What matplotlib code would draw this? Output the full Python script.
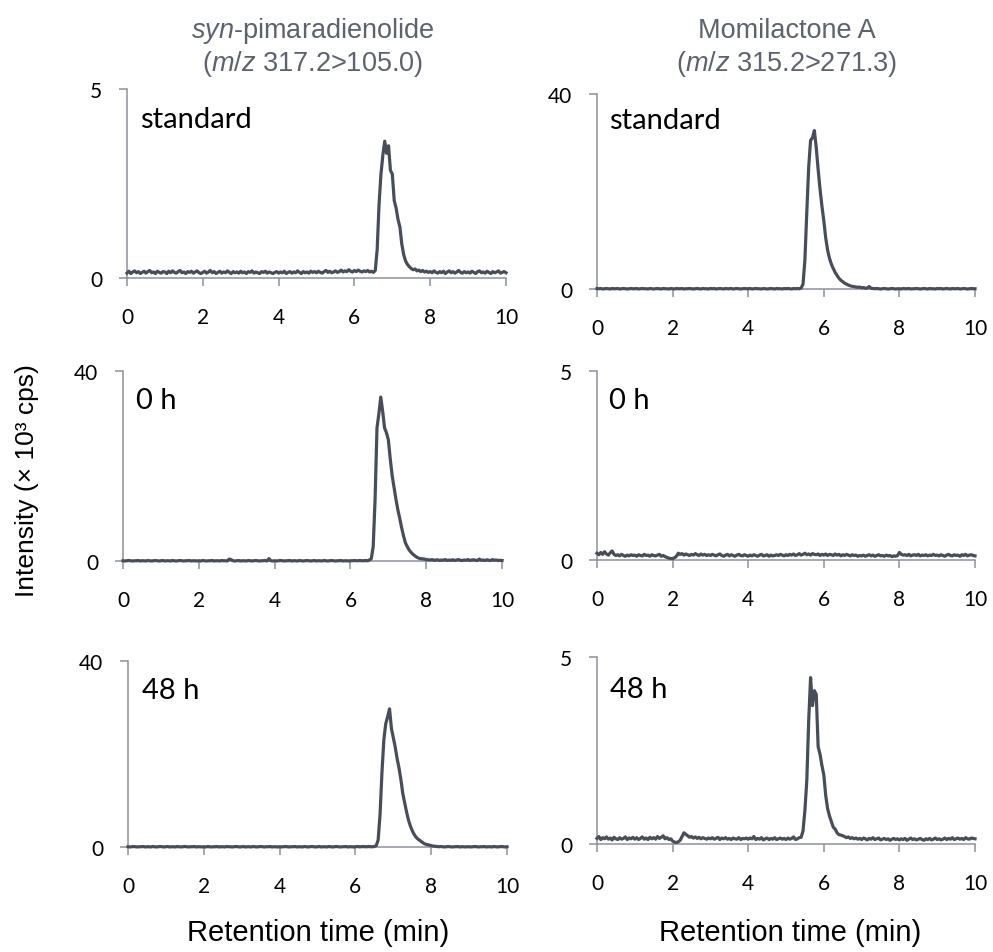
import numpy as np
import matplotlib.pyplot as plt
from matplotlib import font_manager

# retention time axis (min), one reading every 0.05 min
time = np.linspace(0, 10, 201)

# intensities (x 10^3 cps), one row per minute
syn_std = [
    0.13, 0.18, 0.12, 0.16, 0.19, 0.14, 0.17, 0.12, 0.15, 0.18, 0.13, 0.17, 0.20, 0.14, 0.16, 0.12, 0.18, 0.15, 0.13, 0.17,
    0.16, 0.12, 0.18, 0.14, 0.19, 0.15, 0.13, 0.17, 0.20, 0.14, 0.16, 0.12, 0.17, 0.15, 0.18, 0.13, 0.16, 0.19, 0.14, 0.12,
    0.15, 0.18, 0.13, 0.16, 0.20, 0.14, 0.17, 0.12, 0.15, 0.18, 0.13, 0.16, 0.14, 0.19, 0.15, 0.12, 0.17, 0.14, 0.16, 0.13,
    0.18, 0.14, 0.16, 0.12, 0.17, 0.15, 0.19, 0.13, 0.16, 0.14, 0.12, 0.17, 0.15, 0.18, 0.13, 0.16, 0.14, 0.12, 0.15, 0.17,
    0.13, 0.16, 0.14, 0.18, 0.12, 0.15, 0.17, 0.13, 0.16, 0.14, 0.19, 0.15, 0.12, 0.17, 0.14, 0.16, 0.13, 0.18, 0.15, 0.17,
    0.14, 0.18, 0.15, 0.13, 0.17, 0.20, 0.15, 0.18, 0.14, 0.16, 0.19, 0.15, 0.17, 0.21, 0.16, 0.19, 0.17, 0.22, 0.18, 0.16,
    0.20, 0.17, 0.21, 0.18, 0.16, 0.19, 0.17, 0.20, 0.16, 0.18, 0.15, 0.20, 0.75, 1.95, 2.75, 3.25, 3.62, 3.30, 3.50, 2.85,
    2.75, 2.05, 1.85, 1.55, 1.35, 0.90, 0.62, 0.45, 0.36, 0.30, 0.25, 0.22, 0.24, 0.19, 0.21, 0.17, 0.20, 0.16, 0.18, 0.15,
    0.17, 0.14, 0.19, 0.15, 0.13, 0.17, 0.14, 0.18, 0.12, 0.16, 0.19, 0.14, 0.17, 0.13, 0.16, 0.20, 0.15, 0.13, 0.17, 0.14,
    0.16, 0.13, 0.18, 0.15, 0.12, 0.17, 0.19, 0.14, 0.16, 0.13, 0.18, 0.15, 0.12, 0.17, 0.14, 0.16, 0.19, 0.13, 0.15, 0.17,
    0.14,
]

syn_0h = [
    0.05, 0.00, 0.05, 0.10, 0.05, 0.00, 0.05, 0.05, 0.10, 0.00, 0.05, 0.05, 0.00, 0.10, 0.05, 0.00, 0.05, 0.10, 0.05, 0.00,
    0.05, 0.10, 0.00, 0.05, 0.05, 0.00, 0.10, 0.05, 0.00, 0.05, 0.10, 0.05, 0.00, 0.05, 0.05, 0.10, 0.00, 0.05, 0.05, 0.00,
    0.05, 0.00, 0.10, 0.05, 0.00, 0.05, 0.05, 0.10, 0.00, 0.05, 0.05, 0.00, 0.10, 0.05, 0.05, 0.00, 0.40, 0.30, 0.05, 0.00,
    0.05, 0.10, 0.00, 0.05, 0.05, 0.00, 0.10, 0.05, 0.00, 0.05, 0.10, 0.05, 0.00, 0.05, 0.05, 0.10, 0.00, 0.50, 0.05, 0.00,
    0.05, 0.00, 0.05, 0.10, 0.05, 0.00, 0.05, 0.05, 0.10, 0.00, 0.05, 0.05, 0.00, 0.10, 0.05, 0.00, 0.05, 0.10, 0.05, 0.00,
    0.05, 0.10, 0.00, 0.05, 0.05, 0.00, 0.10, 0.05, 0.00, 0.05, 0.10, 0.05, 0.00, 0.05, 0.05, 0.10, 0.00, 0.05, 0.05, 0.00,
    0.05, 0.05, 0.10, 0.05, 0.05, 0.10, 0.05, 0.05, 0.10, 0.05, 0.20, 0.50, 3.00, 13.0, 28.0, 31.0, 34.5, 31.5, 28.0, 27.0,
    25.5, 21.5, 18.0, 15.5, 13.0, 10.8, 9.00, 7.00, 5.30, 3.80, 3.00, 2.30, 1.80, 1.40, 1.10, 0.80, 0.60, 0.50, 0.45, 0.40,
    0.30, 0.25, 0.20, 0.30, 0.15, 0.20, 0.25, 0.10, 0.20, 0.15, 0.30, 0.10, 0.20, 0.15, 0.25, 0.10, 0.20, 0.30, 0.15, 0.10,
    0.20, 0.15, 0.30, 0.10, 0.20, 0.25, 0.15, 0.10, 0.40, 0.15, 0.20, 0.10, 0.25, 0.15, 0.10, 0.30, 0.15, 0.20, 0.10, 0.15,
    0.10,
]

syn_48h = [
    0.05, 0.00, 0.05, 0.10, 0.05, 0.00, 0.05, 0.05, 0.10, 0.00, 0.05, 0.05, 0.00, 0.10, 0.05, 0.00, 0.05, 0.10, 0.05, 0.00,
    0.05, 0.10, 0.00, 0.05, 0.05, 0.00, 0.10, 0.05, 0.00, 0.05, 0.10, 0.05, 0.00, 0.05, 0.05, 0.10, 0.00, 0.05, 0.05, 0.00,
    0.05, 0.00, 0.10, 0.05, 0.00, 0.05, 0.05, 0.10, 0.00, 0.05, 0.05, 0.00, 0.10, 0.05, 0.05, 0.00, 0.05, 0.10, 0.05, 0.00,
    0.05, 0.10, 0.00, 0.05, 0.05, 0.00, 0.10, 0.05, 0.00, 0.05, 0.10, 0.05, 0.00, 0.05, 0.05, 0.10, 0.00, 0.05, 0.05, 0.00,
    0.05, 0.00, 0.05, 0.10, 0.05, 0.00, 0.05, 0.05, 0.10, 0.00, 0.05, 0.05, 0.00, 0.10, 0.05, 0.00, 0.05, 0.10, 0.05, 0.00,
    0.05, 0.10, 0.00, 0.05, 0.05, 0.00, 0.10, 0.05, 0.00, 0.05, 0.10, 0.05, 0.00, 0.05, 0.05, 0.10, 0.00, 0.05, 0.05, 0.00,
    0.05, 0.10, 0.05, 0.05, 0.10, 0.05, 0.05, 0.10, 0.05, 0.05, 0.10, 0.30, 1.50, 7.00, 16.0, 23.0, 26.5, 28.0, 29.7, 25.5,
    23.5, 21.5, 19.0, 17.0, 14.5, 11.5, 9.50, 7.50, 5.80, 4.50, 3.50, 2.70, 2.10, 1.70, 1.40, 1.10, 0.80, 0.60, 0.50, 0.40,
    0.30, 0.20, 0.15, 0.10, 0.05, 0.10, 0.05, 0.00, 0.05, 0.10, 0.05, 0.00, 0.05, 0.05, 0.10, 0.00, 0.05, 0.05, 0.00, 0.05,
    0.05, 0.00, 0.05, 0.10, 0.05, 0.00, 0.05, 0.05, 0.10, 0.00, 0.05, 0.05, 0.00, 0.10, 0.05, 0.00, 0.05, 0.10, 0.05, 0.00,
    0.05,
]

mom_std = [
    0.10, 0.05, 0.10, 0.00, 0.05, 0.10, 0.05, 0.00, 0.10, 0.05, 0.05, 0.10, 0.00, 0.05, 0.10, 0.05, 0.00, 0.05, 0.10, 0.05,
    0.05, 0.10, 0.00, 0.05, 0.10, 0.05, 0.05, 0.00, 0.10, 0.05, 0.00, 0.05, 0.10, 0.05, 0.00, 0.10, 0.05, 0.05, 0.00, 0.10,
    0.05, 0.00, 0.10, 0.05, 0.05, 0.10, 0.00, 0.05, 0.05, 0.10, 0.05, 0.00, 0.05, 0.10, 0.05, 0.00, 0.10, 0.05, 0.05, 0.00,
    0.10, 0.05, 0.10, 0.00, 0.05, 0.10, 0.05, 0.00, 0.10, 0.05, 0.05, 0.10, 0.00, 0.05, 0.10, 0.05, 0.00, 0.05, 0.10, 0.05,
    0.05, 0.10, 0.00, 0.05, 0.10, 0.05, 0.05, 0.00, 0.10, 0.05, 0.00, 0.05, 0.10, 0.05, 0.00, 0.10, 0.05, 0.05, 0.00, 0.10,
    0.05, 0.10, 0.05, 0.00, 0.10, 0.05, 0.10, 0.05, 0.20, 1.00, 6.00, 15.8, 25.0, 30.5, 31.0, 32.5, 29.0, 24.5, 20.5, 17.0,
    14.0, 10.5, 8.00, 6.30, 5.10, 4.20, 3.40, 2.80, 2.20, 1.80, 1.50, 1.20, 1.00, 0.80, 0.65, 0.55, 0.50, 0.40, 0.35, 0.40,
    0.25, 0.30, 0.15, 0.20, 0.50, 0.15, 0.10, 0.05, 0.10, 0.05, 0.00, 0.05, 0.10, 0.05, 0.00, 0.05, 0.10, 0.05, 0.00, 0.05,
    0.05, 0.00, 0.10, 0.05, 0.05, 0.10, 0.00, 0.05, 0.05, 0.10, 0.05, 0.00, 0.05, 0.10, 0.05, 0.00, 0.10, 0.05, 0.05, 0.00,
    0.10, 0.05, 0.10, 0.00, 0.05, 0.10, 0.05, 0.00, 0.10, 0.05, 0.05, 0.10, 0.00, 0.05, 0.10, 0.05, 0.00, 0.05, 0.10, 0.05,
    0.05,
]

mom_0h = [
    0.18, 0.14, 0.20, 0.15, 0.22, 0.16, 0.13, 0.19, 0.24, 0.15, 0.12, 0.14, 0.11, 0.15, 0.12, 0.10, 0.13, 0.11, 0.14, 0.12,
    0.13, 0.10, 0.14, 0.12, 0.11, 0.15, 0.12, 0.13, 0.10, 0.14, 0.12, 0.11, 0.13, 0.15, 0.10, 0.12, 0.09, 0.07, 0.05, 0.04,
    0.04, 0.06, 0.10, 0.18, 0.15, 0.17, 0.13, 0.16, 0.14, 0.12, 0.15, 0.13, 0.17, 0.14, 0.12, 0.16, 0.13, 0.15, 0.12, 0.14,
    0.12, 0.15, 0.13, 0.11, 0.14, 0.16, 0.12, 0.10, 0.13, 0.15, 0.11, 0.14, 0.12, 0.10, 0.13, 0.15, 0.12, 0.11, 0.14, 0.12,
    0.10, 0.13, 0.11, 0.14, 0.12, 0.10, 0.13, 0.15, 0.11, 0.12, 0.14, 0.10, 0.13, 0.11, 0.12, 0.14, 0.12, 0.15, 0.13, 0.11,
    0.14, 0.12, 0.15, 0.13, 0.16, 0.12, 0.14, 0.17, 0.13, 0.15, 0.18, 0.14, 0.16, 0.13, 0.17, 0.15, 0.14, 0.16, 0.12, 0.15,
    0.13, 0.16, 0.12, 0.15, 0.14, 0.12, 0.16, 0.13, 0.15, 0.11, 0.14, 0.12, 0.15, 0.13, 0.11, 0.14, 0.12, 0.13, 0.10, 0.12,
    0.11, 0.13, 0.10, 0.12, 0.14, 0.11, 0.13, 0.10, 0.12, 0.14, 0.11, 0.12, 0.10, 0.13, 0.11, 0.12, 0.09, 0.11, 0.10, 0.12,
    0.20, 0.15, 0.13, 0.14, 0.12, 0.15, 0.11, 0.13, 0.14, 0.12, 0.15, 0.11, 0.13, 0.12, 0.14, 0.11, 0.13, 0.12, 0.15, 0.12,
    0.13, 0.11, 0.14, 0.12, 0.10, 0.13, 0.15, 0.12, 0.11, 0.14, 0.12, 0.13, 0.10, 0.14, 0.12, 0.15, 0.11, 0.13, 0.14, 0.12,
    0.11,
]

mom_48h = [
    0.15, 0.20, 0.12, 0.17, 0.14, 0.19, 0.13, 0.16, 0.11, 0.18, 0.14, 0.12, 0.17, 0.13, 0.15, 0.19, 0.12, 0.16, 0.14, 0.18,
    0.13, 0.17, 0.12, 0.15, 0.19, 0.13, 0.16, 0.12, 0.18, 0.14, 0.17, 0.13, 0.20, 0.15, 0.18, 0.22, 0.14, 0.17, 0.12, 0.14,
    0.08, 0.05, 0.04, 0.06, 0.10, 0.20, 0.30, 0.26, 0.22, 0.18, 0.20, 0.16, 0.19, 0.15, 0.18, 0.14, 0.17, 0.15, 0.13, 0.16,
    0.14, 0.17, 0.13, 0.15, 0.18, 0.12, 0.16, 0.14, 0.17, 0.13, 0.15, 0.12, 0.16, 0.14, 0.13, 0.17, 0.12, 0.15, 0.14, 0.16,
    0.13, 0.16, 0.14, 0.20, 0.12, 0.15, 0.13, 0.17, 0.11, 0.14, 0.16, 0.12, 0.15, 0.13, 0.17, 0.12, 0.14, 0.16, 0.13, 0.15,
    0.12, 0.16, 0.13, 0.15, 0.19, 0.12, 0.14, 0.17, 0.18, 0.35, 0.90, 1.70, 3.30, 4.45, 3.70, 4.10, 4.00, 2.60, 2.40, 2.10,
    1.85, 1.30, 0.95, 0.75, 0.60, 0.45, 0.40, 0.30, 0.25, 0.24, 0.22, 0.20, 0.17, 0.19, 0.15, 0.17, 0.14, 0.16, 0.13, 0.15,
    0.12, 0.16, 0.14, 0.11, 0.15, 0.13, 0.17, 0.12, 0.14, 0.16, 0.11, 0.13, 0.15, 0.12, 0.14, 0.10, 0.13, 0.15, 0.12, 0.14,
    0.11, 0.14, 0.12, 0.15, 0.10, 0.13, 0.16, 0.12, 0.14, 0.11, 0.13, 0.15, 0.12, 0.10, 0.14, 0.12, 0.15, 0.11, 0.13, 0.16,
    0.12, 0.14, 0.11, 0.13, 0.16, 0.12, 0.15, 0.13, 0.17, 0.12, 0.14, 0.16, 0.13, 0.15, 0.12, 0.17, 0.14, 0.13, 0.16, 0.15,
    0.14,
]

sample_labels = ["standard", "0 h", "48 h"]
y_tops_syn = [5, 40, 40]
y_tops_mom = [40, 5, 5]
x_ticks = [0, 2, 4, 6, 8, 10]

line_color = "#474d59"
axis_color = "#8c919b"
title_color = "#5d6270"

installed = {f.name for f in font_manager.fontManager.ttflist}
title_font = "Liberation Sans Narrow" if "Liberation Sans Narrow" in installed else "Liberation Sans"
plt.rcParams["mathtext.fontset"] = "custom"
plt.rcParams["mathtext.rm"] = title_font
plt.rcParams["mathtext.it"] = title_font + ":italic"
plt.rcParams["font.family"] = ["Lato", "DejaVu Sans"]

fig = plt.figure(figsize=(9.93, 9.53), dpi=100)

# axes boxes [left, bottom, width, height] in figure fractions
boxes_syn = [[0.1279, 0.7072, 0.3817, 0.1983],
             [0.1239, 0.4103, 0.3817, 0.1994],
             [0.1289, 0.1102, 0.3817, 0.1952]]
boxes_mom = [[0.6012, 0.6957, 0.3807, 0.2046],
             [0.6012, 0.4113, 0.3807, 0.1983],
             [0.6012, 0.1133, 0.3807, 0.1962]]
label_offsets_syn = [(13, 17), (13, 16), (14, 16)]
label_offsets_mom = [(12, 13), (12, 16), (13, 19)]


def draw_panel(box, values, ytop, label, offset):
    ax = fig.add_axes(box)
    ax.plot(time, values, color=line_color, lw=2.3, zorder=3, clip_on=False,
            solid_joinstyle="round")
    ax.set_xlim(0, 10)
    ax.set_ylim(0, ytop)
    ax.set_xticks(x_ticks)
    ax.set_yticks([0, ytop])
    for side in ["top", "right"]:
        ax.spines[side].set_visible(False)
    for side in ["left", "bottom"]:
        ax.spines[side].set_color(axis_color)
        ax.spines[side].set_linewidth(1.1)
    ax.tick_params(direction="out", length=5.8, width=1.1, color=axis_color,
                   labelsize=15, labelcolor="black")
    ax.tick_params(axis="x", pad=15)
    ax.tick_params(axis="y", pad=12)
    dx, dy = offset
    ax.annotate(label, xy=(0, 1), xycoords="axes fraction",
                xytext=(dx * 0.72, -dy * 0.72), textcoords="offset points",
                ha="left", va="top", fontsize=21)
    return ax


syn_traces = [syn_std, syn_0h, syn_48h]
mom_traces = [mom_std, mom_0h, mom_48h]
for i in range(3):
    draw_panel(boxes_syn[i], syn_traces[i], y_tops_syn[i], sample_labels[i], label_offsets_syn[i])
    draw_panel(boxes_mom[i], mom_traces[i], y_tops_mom[i], sample_labels[i], label_offsets_mom[i])

# column titles
title_kw = dict(ha="center", va="center", fontsize=19.5, color=title_color, family=title_font)
fig.text(0.315, 1 - 31 / 953, r"$\mathit{syn}$-pimaradienolide", **title_kw)
fig.text(0.315, 1 - 64 / 953, r"($\mathit{m/z}$ 317.2>105.0)", **title_kw)
fig.text(0.792, 1 - 31 / 953, "Momilactone A", **title_kw)
fig.text(0.792, 1 - 64 / 953, r"($\mathit{m/z}$ 315.2>271.3)", **title_kw)

# shared axis labels
fig.text(0.027, 0.496, "Intensity (× 10³ cps)", rotation=90, ha="center", va="center",
         fontsize=19, family="Liberation Sans")
fig.text(0.3208, 0.0205, "Retention time (min)", ha="center", va="center",
         fontsize=21, family="Liberation Sans")
fig.text(0.7956, 0.0205, "Retention time (min)", ha="center", va="center",
         fontsize=21, family="Liberation Sans")

fig.savefig("out.png", dpi=100)
